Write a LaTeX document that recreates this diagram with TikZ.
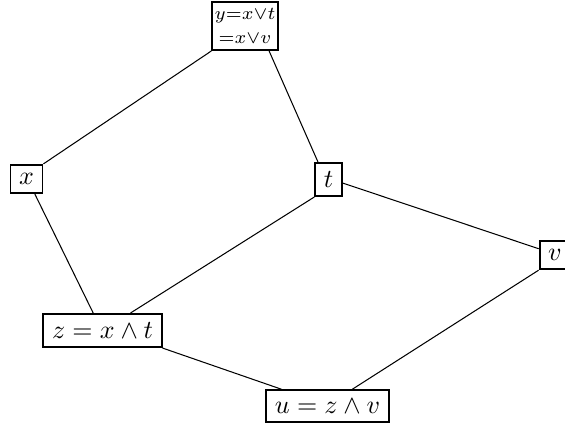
\documentclass[tikz,border=0pt]{standalone}
\begin{document}
\begin{tikzpicture}[x=0.385pt,y=-0.385pt,
  box/.style={draw,line width=0.7pt,fill=white,inner sep=3.33pt},
  edge/.style={draw,line width=0.4pt}]
\useasboundingbox (0,0) rectangle (565,425);
\node[box,align=center,font=\fontsize{7.5}{9}\selectfont,inner xsep=0.9pt,inner ysep=2.6pt] (top) at (245,26) {$y{=}x{\vee}t$\\${=}x{\vee}v$};
\node[box] (x) at (26.5,179) {$x$};
\node[box] (t) at (328.5,179.5) {$t$};
\node[box] (v) at (555,255) {$v$};
\node[box] (z) at (102.5,330.5) {$z = x \wedge t$};
\node[box] (u) at (327.5,406) {$u = z \wedge v$};
\draw[edge] (top.south west) -- (x.north east);
\draw[edge] (top.-46) -- (t.121);
\draw[edge] (x.-61) -- (z.118);
\draw[edge] (t.south west) -- (z.32);
\draw[edge] (t.-14) -- (v.159);
\draw[edge] (z.south east) -- (u.160);
\draw[edge] (v.south west) -- (u.34);
\end{tikzpicture}
\end{document}
